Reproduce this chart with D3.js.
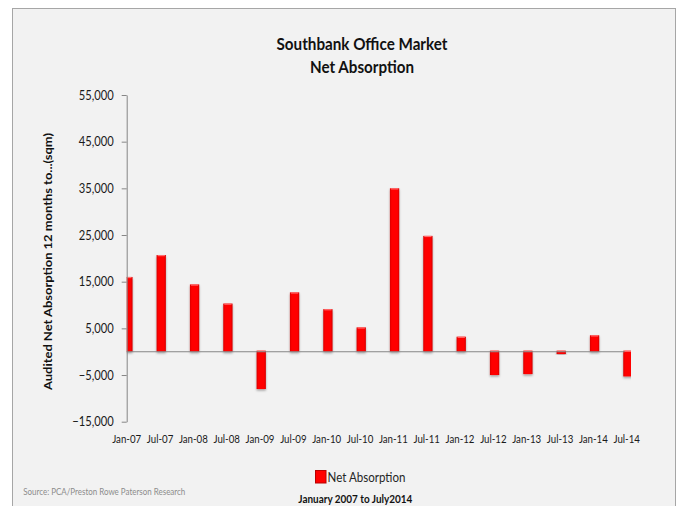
<!DOCTYPE html>
<html>
<head>
<meta charset="utf-8">
<script src="https://cdn.jsdelivr.net/npm/d3@7"></script>
<style>
  body { margin: 0; background: #ffffff; }
  svg { display: block; font-family: Lato, "Open Sans", "Liberation Sans", sans-serif; }
</style>
</head>
<body>
<svg id="chart" width="684" height="506"></svg>
<script>
// Half-yearly periods and audited net absorption (sqm, 12 months to period)
const periods = ["Jan-07", "Jul-07", "Jan-08", "Jul-08", "Jan-09", "Jul-09", "Jan-10", "Jul-10",
                 "Jan-11", "Jul-11", "Jan-12", "Jul-12", "Jan-13", "Jul-13", "Jan-14", "Jul-14"];
const netAbsorption = [15800, 20500, 14200, 10100, -8000, 12500, 8900, 5000,
                       34800, 24600, 3000, -5000, -4800, -500, 3300, -5300];
const yTickValues = [-15000, -5000, 5000, 15000, 25000, 35000, 45000, 55000];
const yDomain = [-15000, 55000];

const titleLines = ["Southbank Office Market", "Net Absorption"];
const yAxisTitle = "Audited Net Absorption 12 months to...(sqm)";
const seriesName = "Net Absorption";
const periodNote = "January 2007 to July2014";
const sourceNote = "Source: PCA/Preston Rowe Paterson Research";

const svg = d3.select("#chart");

// horizontally condense text (narrow face look)
function squeeze(sel, k) {
  sel.each(function () {
    const w = this.getComputedTextLength();
    d3.select(this).attr("textLength", w * k).attr("lengthAdjust", "spacingAndGlyphs");
  });
}
function fitWidth(sel, w) {
  sel.attr("textLength", w).attr("lengthAdjust", "spacingAndGlyphs");
}

// defs: bar shading and shadow
const defs = svg.append("defs");
const grad = defs.append("linearGradient").attr("id", "barFill")
  .attr("x1", "0").attr("x2", "1").attr("y1", "0").attr("y2", "0");
grad.append("stop").attr("offset", "0%").attr("stop-color", "#d80000");
grad.append("stop").attr("offset", "20%").attr("stop-color", "#ff0000");
grad.append("stop").attr("offset", "80%").attr("stop-color", "#ff0000");
grad.append("stop").attr("offset", "100%").attr("stop-color", "#d40000");
const shadow = defs.append("filter").attr("id", "barShadow")
  .attr("x", "-50%").attr("y", "-20%").attr("width", "200%").attr("height", "140%");
shadow.append("feDropShadow").attr("dx", 0).attr("dy", 1.5).attr("stdDeviation", 1)
  .attr("flood-color", "#000").attr("flood-opacity", 0.35);

// chart frame
svg.append("rect")
  .attr("x", 12.5).attr("y", 8.5).attr("width", 663).attr("height", 520)
  .attr("fill", "#f2f2f2").attr("stroke", "#a6a6a6").attr("stroke-width", 1);

// scales
const x = d3.scalePoint().domain(periods).range([126.7, 626.7]).padding(0);
const y = d3.scaleLinear().domain(yDomain).range([421.7, 95]);
const barW = 9.3;

const clip = defs.append("clipPath").attr("id", "plotClip");
clip.append("rect").attr("x", 126.7).attr("y", 80).attr("width", 631 - 126.7).attr("height", 360);

// bars
const bars = svg.append("g").attr("clip-path", "url(#plotClip)");
const barData = periods.map((p, i) => ({ p, v: netAbsorption[i] }));
bars.selectAll("rect.bar").data(barData).join("rect")
  .attr("class", "bar")
  .attr("x", d => x(d.p) + 1.2 - barW / 2)
  .attr("y", d => y(Math.max(0, d.v)) - 1)
  .attr("width", barW)
  .attr("height", d => Math.abs(y(d.v) - y(0)) + 1)
  .attr("fill", "url(#barFill)")
  .attr("filter", "url(#barShadow)");
// light bevel on the top face
bars.selectAll("rect.bevel").data(barData).join("rect")
  .attr("class", "bevel")
  .attr("x", d => x(d.p) + 1.2 - barW / 2 + 1)
  .attr("y", d => y(Math.max(0, d.v)) - 1)
  .attr("width", barW - 2)
  .attr("height", 1.2)
  .attr("fill", "#ff7070");

// zero baseline
svg.append("line")
  .attr("x1", x(periods[0])).attr("x2", x(periods[periods.length - 1]) - 2)
  .attr("y1", y(0)).attr("y2", y(0))
  .attr("stroke", "#868686").attr("stroke-width", 1.1);

// y axis
const yAxis = svg.append("g")
  .attr("transform", `translate(${x(periods[0])},0)`)
  .call(d3.axisLeft(y).tickValues(yTickValues).tickSize(5).tickSizeOuter(0)
    .tickPadding(8).tickFormat(d3.format(",")));
yAxis.select(".domain").attr("stroke", "#868686");
yAxis.selectAll(".tick line").attr("stroke", "#868686");
yAxis.selectAll(".tick text")
  .attr("font-size", 13).attr("fill", "#1a1a1a").attr("font-family", "Lato, sans-serif")
  .call(squeeze, 0.86);

// x labels
svg.append("g").selectAll("text").data(periods).join("text")
  .attr("x", d => x(d)).attr("y", 442.5)
  .attr("text-anchor", "middle").attr("font-size", 11).attr("fill", "#1a1a1a")
  .text(d => d)
  .call(squeeze, 0.88);

// titles
svg.append("g").selectAll("text").data(titleLines).join("text")
  .attr("x", 362).attr("y", (d, i) => 50 + i * 23)
  .attr("text-anchor", "middle").attr("font-size", 17).attr("font-weight", "bold")
  .attr("fill", "#111")
  .text(d => d)
  .each(function (d, i) { d3.select(this).call(fitWidth, i === 0 ? 171 : 104); });

// y axis title
svg.append("text")
  .attr("transform", "translate(52,261.5) rotate(-90)")
  .attr("text-anchor", "middle").attr("font-size", 11.5).attr("font-weight", "bold")
  .attr("fill", "#111")
  .text(yAxisTitle)
  .call(fitWidth, 257);

// legend
const legend = svg.append("g");
legend.append("rect").attr("x", 315.5).attr("y", 470.5).attr("width", 10.5).attr("height", 12.5)
  .attr("fill", "#ff0000").attr("stroke", "#b80000").attr("stroke-width", 1);
legend.append("text").attr("x", 327.5).attr("y", 481.5)
  .attr("font-size", 14).attr("fill", "#262626").text(seriesName)
  .call(fitWidth, 78);

// footnotes
svg.append("text").attr("x", 355.3).attr("y", 502.5).attr("text-anchor", "middle")
  .attr("font-size", 11).attr("font-weight", "bold").attr("fill", "#111")
  .text(periodNote).call(fitWidth, 114);
svg.append("text").attr("x", 23.3).attr("y", 494.5)
  .attr("font-size", 9.5).attr("fill", "#8c8c8c")
  .text(sourceNote).call(fitWidth, 162);
</script>
</body>
</html>
